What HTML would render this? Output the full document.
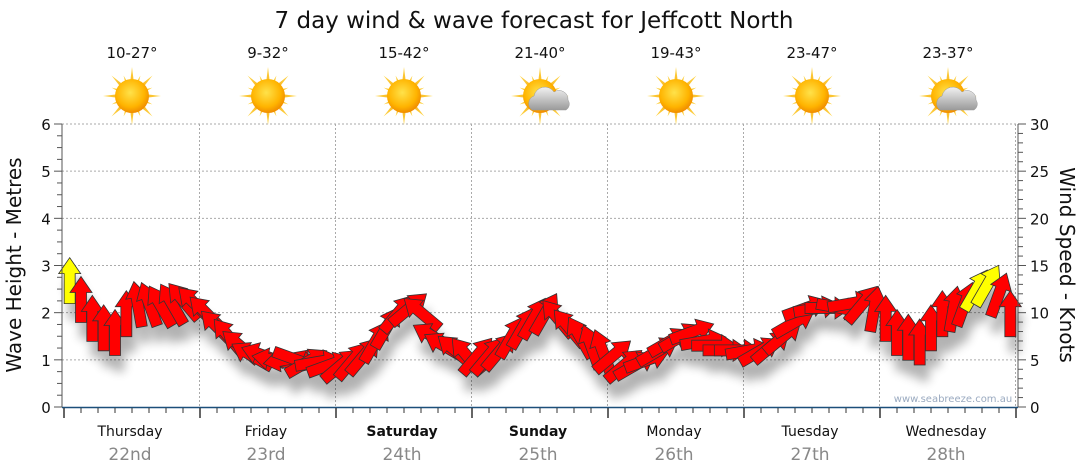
<!DOCTYPE html>
<html><head><meta charset="utf-8">
<style>
html,body{margin:0;padding:0;background:#fff;}
svg{display:block;font-family:"DejaVu Sans","Liberation Sans",sans-serif;}
</style></head>
<body>
<svg id="chart" width="1080" height="475" viewBox="0 0 1080 475">
<defs>
<radialGradient id="sunG" cx="45%" cy="40%" r="60%"><stop offset="0" stop-color="#ffe24a"/><stop offset="0.7" stop-color="#ffb400"/><stop offset="1" stop-color="#f08c00"/></radialGradient>
<linearGradient id="rayG" x1="0" y1="0" x2="0" y2="1"><stop offset="0" stop-color="#ffd84a"/><stop offset="1" stop-color="#f39a00"/></linearGradient>
<linearGradient id="cloudG" x1="0" y1="0" x2="0" y2="1"><stop offset="0" stop-color="#f2f2f2"/><stop offset="1" stop-color="#9a9a9a"/></linearGradient>
<filter id="sh" x="-50%" y="-50%" width="200%" height="200%"><feGaussianBlur stdDeviation="5"/></filter>
</defs>
<text x="534" y="28" font-size="23" text-anchor="middle" fill="#111">7 day wind &amp; wave forecast for Jeffcott North</text>
<g id="grid"></g>
<g id="icons"></g>
<g id="shadows" filter="url(#sh)" opacity="0.3"></g>
<g id="arrows"></g>
<g id="axes"></g>
<text x="953" y="402" font-size="10" fill="#9aaac0" text-anchor="middle">www.seabreeze.com.au</text>
<text transform="translate(21,265) rotate(-90)" font-size="20" text-anchor="middle" fill="#111">Wave Height - Metres</text>
<text transform="translate(1060,265) rotate(90)" font-size="20" text-anchor="middle" fill="#111">Wind Speed - Knots</text>
</svg>
<script>
const days=["Thursday","Friday","Saturday","Sunday","Monday","Tuesday","Wednesday"];
const dates=["22nd","23rd","24th","25th","26th","27th","28th"];
const temps=["10-27°","9-32°","15-42°","21-40°","19-43°","23-47°","23-37°"];
const cloudy=[false,false,false,true,false,false,true];
const boldDays=[false,false,true,true,false,false,false];
const waveTicks=[0,1,2,3,4,5,6];
const windTicks=[0,5,10,15,20,25,30];
// wind speed (knots) every 2 hours
const windSpeed=[13.5,11.5,9.5,8.5,8,10,11,11,10.8,11,11.3,11,
 10,8.5,7.5,6.5,5.5,5.5,5,5,5,4.8,4.8,4.5,
 4.5,5,5.5,7,8.5,10,10.5,10,7.5,6.5,6,5.5,
 5.5,5.5,6,7.5,8.5,9.5,10,9.5,8.5,7.5,6.5,6,
 5.5,4.5,4.5,5,6,7,7.5,8,7,6.5,6,6,
 6,6,6.5,7.5,9,10.5,10.5,10.5,10.5,11,11,10.5,
 9.5,8,7.5,7,8.5,10,10.5,11,12.5,13,12,10];
// arrow heading in degrees (0 = up, negative = left)
const windDir=[0,0,0,0,0,0,-10,-20,-30,-30,-40,-45,
 -45,-45,-40,-50,-60,-70,-80,-100,110,60,80,70,
 50,40,40,30,30,40,50,-50,-60,-60,-50,-40,
 40,40,40,30,30,30,30,-40,-40,-30,-20,-20,
 50,50,60,70,60,60,60,70,80,90,90,90,
 80,60,50,50,60,70,80,90,100,80,40,10,
 0,0,0,0,0,0,10,20,30,30,20,0];
const X0=64,DAYW=136,Y0=407,Y6=124;
const ns="http://www.w3.org/2000/svg";
const yW=v=>Y0-(Y0-Y6)*v/6;
const yK=v=>Y0-(Y0-Y6)*v/30;
const xH=h=>X0+DAYW*h/24;
function mk(tag,at,parent){const e=document.createElementNS(ns,tag);for(const k in at)e.setAttribute(k,at[k]);parent.appendChild(e);return e;}
const grid=document.getElementById('grid'),axes=document.getElementById('axes'),icons=document.getElementById('icons');
waveTicks.forEach(v=>{if(v>0){const l=mk('line',{x1:62,x2:1018,y1:yW(v),y2:yW(v),stroke:'#aaa','stroke-dasharray':'2,2'},grid);

}});
for(let d=1;d<=7;d++){const x=X0+DAYW*d-0.5;const l=mk('line',{x1:x,x2:x,y1:124,y2:407,stroke:'#aaa','stroke-dasharray':'2,2'},grid);

}
let a=mk('line',{x1:62,x2:62,y1:124,y2:407,stroke:'#555'},axes);


a=mk('line',{x1:1018,x2:1018,y1:124,y2:407,stroke:'#555'},axes);


a=mk('line',{x1:62,x2:1018,y1:407.5,y2:407.5,stroke:'#1c4f7a','stroke-width':1.5},axes);


for(let v=0;v<=24;v++){const y=Y0-(Y0-Y6)*v/24;const big=v%4==0;
 mk('line',{x1:big?54:57,x2:62,y1:y,y2:y,stroke:'#555'},axes);}
for(let v=0;v<=30;v++){const y=yK(v);mk('line',{x1:1018,x2:v%5==0?1026:1023,y1:y,y2:y,stroke:'#555'},axes);}
waveTicks.forEach(v=>{const t=mk('text',{x:46,y:yW(v)+6,'font-size':15,'text-anchor':'middle',fill:'#111'},axes);t.textContent=v;

});
windTicks.forEach(v=>{const t=mk('text',{x:1030,y:yK(v)+6,'font-size':15,fill:'#111'},axes);t.textContent=v;

});
for(let h=0;h<=24*7;h+=3){const x=xH(h);const big=h%24==0;mk('line',{x1:x,x2:x,y1:408,y2:big?418:413,stroke:'#333','stroke-width':big?1.5:1},axes);}
days.forEach((d,i)=>{const cx=X0+DAYW*i+DAYW/2-2;
 let t=mk('text',{x:cx,y:436,'font-size':14,'text-anchor':'middle',fill:'#111','font-weight':boldDays[i]?'bold':'normal'},axes);t.textContent=d;
 
 
 t=mk('text',{x:cx,y:460,'font-size':17,'text-anchor':'middle',fill:'#888'},axes);t.textContent=dates[i];
 
 
 t=mk('text',{x:cx+2,y:58,'font-size':15,'text-anchor':'middle',fill:'#111'},icons);t.textContent=temps[i];
 
 
 const g=mk('g',{transform:`translate(${cx+2},96)`},icons);
 
 
 for(let r=0;r<16;r++){const ang=r*22.5;const L=r%2==0?29:22;
  mk('polygon',{points:`-3.5,0 3.5,0 0,${-L}`,fill:'url(#rayG)',transform:`rotate(${ang})`},g);}
 mk('circle',{r:17,fill:'url(#sunG)'},g);
 if(cloudy[i]){mk('path',{d:'M-10,16 a8,8 0 0 1 2,-14 a11,11 0 0 1 20,-4 a9,9 0 0 1 14,8 a7,7 0 0 1 -2,10 z',fill:'url(#cloudG)',stroke:'#999','stroke-width':0.5,transform:'translate(2,-2)'},g);}
});
const arrG=document.getElementById('arrows'),shG=document.getElementById('shadows');
const arrowPts="0,-22 11,-6 5.5,-6 5.5,24 -5.5,24 -5.5,-6 -11,-6";
windSpeed.forEach((s,i)=>{const x=xH(i*2+1),y=yK(s);
 const sh=mk('polygon',{points:arrowPts,fill:'#000',transform:`translate(${x+4},${y+16}) rotate(${windDir[i]})`},shG);
 
 
 const p=mk('polygon',{points:arrowPts,fill:s>12?'#ffff00':'#ff0000',stroke:'#333','stroke-width':0.8,transform:`translate(${x},${y}) rotate(${windDir[i]})`},arrG);
 
 
});
</script>
</body></html>
